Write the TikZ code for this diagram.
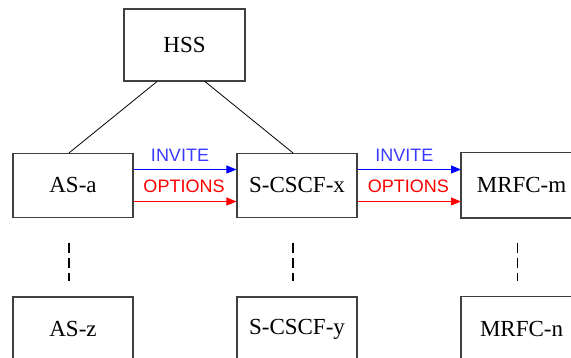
\documentclass[tikz,border=0pt]{standalone}
\usepackage{fontspec}
\setmainfont{Liberation Serif}
\newfontfamily\labelfont{Liberation Sans}
\usetikzlibrary{arrows.meta}
\definecolor{boxline}{HTML}{404040}
\definecolor{invblue}{HTML}{0000FF}
\definecolor{invtext}{HTML}{3A3AFF}
\definecolor{optred}{HTML}{FF0000}
\newcommand{\edgetext}[1]{\makebox[120pt]{#1}\kern20pt}
\tikzset{
  entity/.style={draw=boxline, line width=1.1pt, fill=white, minimum width=120pt,
    minimum height=64pt, inner sep=0pt, font=\fontsize{23}{26}\selectfont},
  wide/.style={minimum width=140pt, anchor=west, draw=none},
  openside/.style={draw=boxline, line width=1.1pt},
  link/.style={line width=0.8pt, black},
  msg/.style={line width=0.9pt, -{Triangle[length=10pt,width=8pt]}},
  msglabel/.style={inner sep=0pt, font=\labelfont\fontsize{18}{20}\selectfont},
  chain/.style={line width=1.8pt, dash pattern=on 10pt off 5pt}
}
\begin{document}
\begin{tikzpicture}[x=1pt,y=-1pt]
\useasboundingbox (0,0) rectangle (571,358);
% top level
\node[entity, minimum width=121pt, minimum height=72pt] (hss) at (184.5,45) {HSS};
% middle row
\node[entity] (asa) at (73,185.5) {AS-a};
\node[entity] (scscfx) at (297,185.5) {S-CSCF-x};
\node[entity, wide] (mrfcm) at (461,185.5) {\edgetext{MRFC-m}};
% bottom row
\node[entity] (asz) at (73,329) {AS-z};
\node[entity] (scscfy) at (297,329) {S-CSCF-y};
\node[entity, wide] (mrfcn) at (461,329) {\edgetext{MRFC-n}};
% the right-hand boxes run past the edge of the page
\draw[openside] (mrfcm.north east) -- (mrfcm.north west) -- (mrfcm.south west) -- (mrfcm.south east);
\draw[openside] (mrfcn.north east) -- (mrfcn.north west) -- (mrfcn.south west) -- (mrfcn.south east);
% HSS links
\draw[link] ([xshift=-27.5pt]hss.south) -- ([xshift=-4pt]asa.north);
\draw[link] ([xshift=20.5pt]hss.south) -- ([xshift=-4pt]scscfx.north);
% messages
\draw[msg, invblue] ([yshift=16pt]asa.east) -- node[msglabel, text=invtext, above=8pt, xshift=-5pt] {INVITE} ([yshift=16pt]scscfx.west);
\draw[msg, optred] ([yshift=-16pt]asa.east) -- node[msglabel, text=optred, above=8pt, xshift=-1pt] {OPTIONS} ([yshift=-16pt]scscfx.west);
\draw[msg, invblue] ([yshift=16pt]scscfx.east) -- node[msglabel, text=invtext, above=8pt, xshift=-5pt] {INVITE} ([yshift=16pt]mrfcm.west);
\draw[msg, optred] ([yshift=-16pt]scscfx.east) -- node[msglabel, text=optred, above=8pt, xshift=-1pt] {OPTIONS} ([yshift=-16pt]mrfcm.west);
% continuation marks
\draw[chain] ([xshift=-4pt,yshift=-24.5pt]asa.south) -- ([xshift=-4pt,yshift=15pt]asz.north);
\draw[chain] ([xshift=-4pt,yshift=-24.5pt]scscfx.south) -- ([xshift=-4pt,yshift=15pt]scscfy.north);
\draw[chain] ([xshift=-14pt,yshift=-24.5pt]mrfcm.south) -- ([xshift=-14pt,yshift=15pt]mrfcn.north);
\end{tikzpicture}
\end{document}
